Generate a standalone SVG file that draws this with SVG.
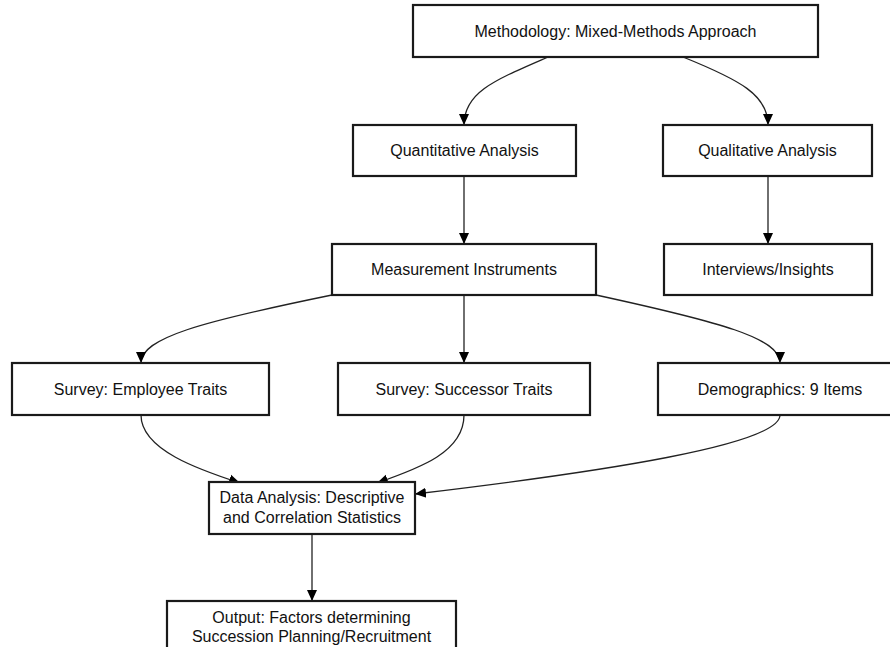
<svg xmlns="http://www.w3.org/2000/svg" width="890" height="647" viewBox="0 0 890 647">
<style>
.box{fill:#fff;stroke:#1a1a1a;stroke-width:2.2}
.lbl{font-family:"Liberation Sans",Arial,sans-serif;font-size:16px;fill:#111;text-anchor:middle}
.edge{fill:none;stroke:#222;stroke-width:1.3}
</style>
<defs>
<marker id="ah" markerUnits="userSpaceOnUse" markerWidth="12" markerHeight="12" viewBox="0 0 12 12" refX="11" refY="6" orient="auto">
<path d="M0,1 L11,6 L0,11 Z" fill="#000"/>
</marker>
</defs>
<rect width="890" height="647" fill="#fff"/>
<g id="connectors">
<path class="edge" marker-end="url(#ah)" d="M548,57 C495,80 464,92 464,125"/>
<path class="edge" marker-end="url(#ah)" d="M683,57 C740,80 768,95 768,125"/>
<path class="edge" marker-end="url(#ah)" d="M464,176 L464,244"/>
<path class="edge" marker-end="url(#ah)" d="M768,176 L768,244"/>
<path class="edge" marker-end="url(#ah)" d="M332,295 C200,322 141,338 141,363"/>
<path class="edge" marker-end="url(#ah)" d="M464,295 L464,363"/>
<path class="edge" marker-end="url(#ah)" d="M596,295 C720,322 780,338 780,363"/>
<path class="edge" marker-end="url(#ah)" d="M141,415 C141,450 200,470 240,483"/>
<path class="edge" marker-end="url(#ah)" d="M464,415 C464,452 420,468 377,483"/>
<path class="edge" marker-end="url(#ah)" d="M780,415 C780,445 600,472 415,494"/>
<path class="edge" marker-end="url(#ah)" d="M312,534 L312,601"/>
</g>
<g id="n_method">
<rect class="box" x="413" y="5" width="405" height="52"/>
<text class="lbl" x="615.5" y="36.5">Methodology: Mixed-Methods Approach</text>
</g>
<g id="n_quant">
<rect class="box" x="353" y="125" width="223" height="51"/>
<text class="lbl" x="464.5" y="156">Quantitative Analysis</text>
</g>
<g id="n_qual">
<rect class="box" x="663" y="125" width="209" height="51"/>
<text class="lbl" x="767.5" y="156">Qualitative Analysis</text>
</g>
<g id="n_measure">
<rect class="box" x="332" y="244" width="264" height="51"/>
<text class="lbl" x="464" y="275">Measurement Instruments</text>
</g>
<g id="n_interviews">
<rect class="box" x="664" y="244" width="208" height="51"/>
<text class="lbl" x="768" y="275">Interviews/Insights</text>
</g>
<g id="n_employee">
<rect class="box" x="12" y="363" width="257" height="52"/>
<text class="lbl" x="140.5" y="394.5">Survey: Employee Traits</text>
</g>
<g id="n_successor">
<rect class="box" x="338" y="363" width="252" height="52"/>
<text class="lbl" x="464" y="394.5">Survey: Successor Traits</text>
</g>
<g id="n_demo">
<rect class="box" x="658" y="363" width="244" height="52"/>
<text class="lbl" x="780" y="394.5">Demographics: 9 Items</text>
</g>
<g id="n_data">
<rect class="box" x="209" y="482" width="206" height="52"/>
<text class="lbl" x="312" y="503">Data Analysis: Descriptive</text>
<text class="lbl" x="312" y="523">and Correlation Statistics</text>
</g>
<g id="n_output">
<rect class="box" x="167" y="601" width="289" height="60"/>
<text class="lbl" x="311.5" y="623">Output: Factors determining</text>
<text class="lbl" x="311.5" y="642">Succession Planning/Recruitment</text>
</g>
</svg>
